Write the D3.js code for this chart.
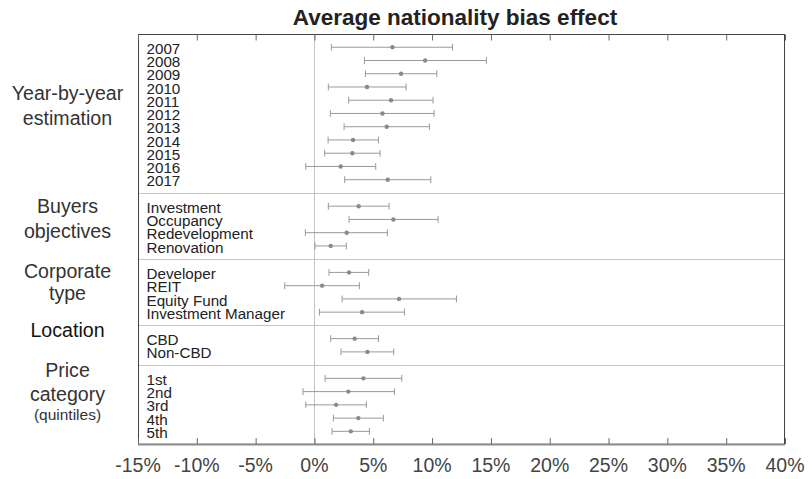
<!DOCTYPE html>
<html>
<head>
<meta charset="utf-8">
<script src="https://cdn.jsdelivr.net/npm/d3@7"></script>
<style>
  html, body { margin: 0; padding: 0; background: #fff; }
  svg { display: block; font-family: "Liberation Sans", Arial, Helvetica, sans-serif; }
</style>
</head>
<body>
<svg id="chart" width="812" height="479"></svg>
<script>
// ---- data ----
const groupNames = [["Year-by-year", "estimation"], ["Buyers", "objectives"], ["Corporate", "type"], ["Location"], ["Price", "category", "(quintiles)"]];
const yearLabels = ["2007","2008","2009","2010","2011","2012","2013","2014","2015","2016","2017"];
const yearEst    = [6.63, 9.41, 7.36, 4.47, 6.51, 5.78, 6.14, 3.28, 3.22, 2.23, 6.23];
const yearLo     = [1.44, 4.25, 4.33, 1.18, 2.91, 1.35, 2.52, 1.16, 0.87, -0.74, 2.57];
const yearHi     = [11.73, 14.62, 10.40, 7.79, 10.08, 10.17, 9.77, 5.44, 5.58, 5.21, 9.89];
const buyerLabels = ["Investment","Occupancy","Redevelopment","Renovation"];
const buyerEst    = [3.76, 6.71, 2.74, 1.38];
const buyerLo     = [1.18, 2.94, -0.77, 0.05];
const buyerHi     = [6.34, 10.51, 6.20, 2.71];
const corpLabels = ["Developer","REIT","Equity Fund","Investment Manager"];
const corpEst    = [2.94, 0.65, 7.19, 4.05];
const corpLo     = [1.24, -2.53, 2.35, 0.42];
const corpHi     = [4.61, 3.82, 12.07, 7.65];
const locLabels = ["CBD","Non-CBD"];
const locEst    = [3.42, 4.50];
const locLo     = [1.38, 2.26];
const locHi     = [5.44, 6.74];
const priceLabels = ["1st","2nd","3rd","4th","5th"];
const priceEst    = [4.16, 2.88, 1.84, 3.73, 3.09];
const priceLo     = [0.90, -0.97, -0.74, 1.61, 1.50];
const priceHi     = [7.42, 6.80, 4.41, 5.86, 4.67];
const xTicks = [-15, -10, -5, 0, 5, 10, 15, 20, 25, 30, 35, 40];
const title = "Average nationality bias effect";

// ---- build rows ----
const groups = [
  {labels: yearLabels, est: yearEst, lo: yearLo, hi: yearHi},
  {labels: buyerLabels, est: buyerEst, lo: buyerLo, hi: buyerHi},
  {labels: corpLabels, est: corpEst, lo: corpLo, hi: corpHi},
  {labels: locLabels, est: locEst, lo: locLo, hi: locHi},
  {labels: priceLabels, est: priceEst, lo: priceLo, hi: priceHi}
];
const rows = [];
const separators = [];
let idx = 0;
groups.forEach((g) => {
  g.labels.forEach((l, i) => {
    idx++;
    rows.push({label: l, est: g.est[i], lo: g.lo[i], hi: g.hi[i], i: idx});
  });
  idx++;
  separators.push(idx);
});
const nSlots = idx + 1;

const svg = d3.select("#chart");
const L = 138, R = 785, T = 34, B = 444.6;
const x = d3.scaleLinear().domain([-15, 40]).range([L, R]);
const y = d3.scaleLinear().domain([0, nSlots - 1]).range([T, B]);

// title
svg.append("text").attr("x", 455).attr("y", 25)
  .attr("text-anchor", "middle").attr("font-weight", "bold")
  .attr("font-size", 22.5).attr("fill", "#222").text(title);

// separators
svg.selectAll("line.sep").data(separators).join("line")
  .attr("class", "sep")
  .attr("x1", L).attr("x2", R)
  .attr("y1", d => Math.round(y(d)) + 0.5).attr("y2", d => Math.round(y(d)) + 0.5)
  .attr("stroke", "#c4c4c4").attr("stroke-width", 1);

// zero line
svg.append("line").attr("x1", Math.round(x(0)) + 0.5).attr("x2", Math.round(x(0)) + 0.5)
  .attr("y1", T).attr("y2", B).attr("stroke", "#c4c4c4").attr("stroke-width", 1);

// frame
svg.append("rect").attr("x", L + 0.5).attr("y", T + 0.5)
  .attr("width", R - L - 1).attr("height", B - T - 1)
  .attr("fill", "none").attr("stroke", "#444").attr("stroke-width", 1);

// axes (inner ticks)
const axTop = svg.append("g").attr("transform", `translate(0,${T + 0.5})`)
  .call(d3.axisBottom(x).tickValues(xTicks).tickSize(6).tickFormat(""));
const axBot = svg.append("g").attr("transform", `translate(0,${B - 0.5})`)
  .call(d3.axisTop(x).tickValues(xTicks).tickSize(6).tickFormat(""));
[axTop, axBot].forEach(g => {
  g.select(".domain").remove();
  g.selectAll(".tick line").attr("stroke", "#666");
});

// tick labels
svg.selectAll("text.tl").data(xTicks).join("text")
  .attr("class", "tl")
  .attr("x", d => x(d)).attr("y", 472)
  .attr("text-anchor", "middle").attr("font-size", 19.5).attr("fill", "#444")
  .text(d => d + "%");

// error bars
const eb = svg.append("g");
eb.selectAll("line.bar").data(rows).join("line")
  .attr("class", "bar")
  .attr("x1", d => x(d.lo)).attr("x2", d => x(d.hi))
  .attr("y1", d => y(d.i)).attr("y2", d => y(d.i))
  .attr("stroke", "#9a9a9a").attr("stroke-width", 1);
eb.selectAll("line.capl").data(rows).join("line")
  .attr("class", "capl")
  .attr("x1", d => x(d.lo)).attr("x2", d => x(d.lo))
  .attr("y1", d => y(d.i) - 3.4).attr("y2", d => y(d.i) + 3.4)
  .attr("stroke", "#9a9a9a").attr("stroke-width", 1);
eb.selectAll("line.caph").data(rows).join("line")
  .attr("class", "caph")
  .attr("x1", d => x(d.hi)).attr("x2", d => x(d.hi))
  .attr("y1", d => y(d.i) - 3.4).attr("y2", d => y(d.i) + 3.4)
  .attr("stroke", "#9a9a9a").attr("stroke-width", 1);
eb.selectAll("circle").data(rows).join("circle")
  .attr("cx", d => x(d.est)).attr("cy", d => y(d.i)).attr("r", 2.2)
  .attr("fill", "#8a8a8a");

// row labels
svg.selectAll("text.rl").data(rows).join("text")
  .attr("class", "rl")
  .attr("x", 146.5).attr("y", d => y(d.i) + 6.6)
  .attr("font-size", 15.2).attr("fill", "#222")
  .text(d => d.label);

// group labels
const glBase = [[99.5, 124.5], [213, 238], [277.5, 300], [336.5], [377, 400.5, 419.5]];
groupNames.forEach((lines, gi) => {
  lines.forEach((t, li) => {
    const small = t.startsWith("(");
    svg.append("text").attr("x", 67.5).attr("y", glBase[gi][li])
      .attr("text-anchor", "middle")
      .attr("font-size", small ? 15.5 : 19.6)
      .attr("fill", t === "Location" ? "#111" : "#333")
      .text(t);
  });
});
</script>
</body>
</html>
